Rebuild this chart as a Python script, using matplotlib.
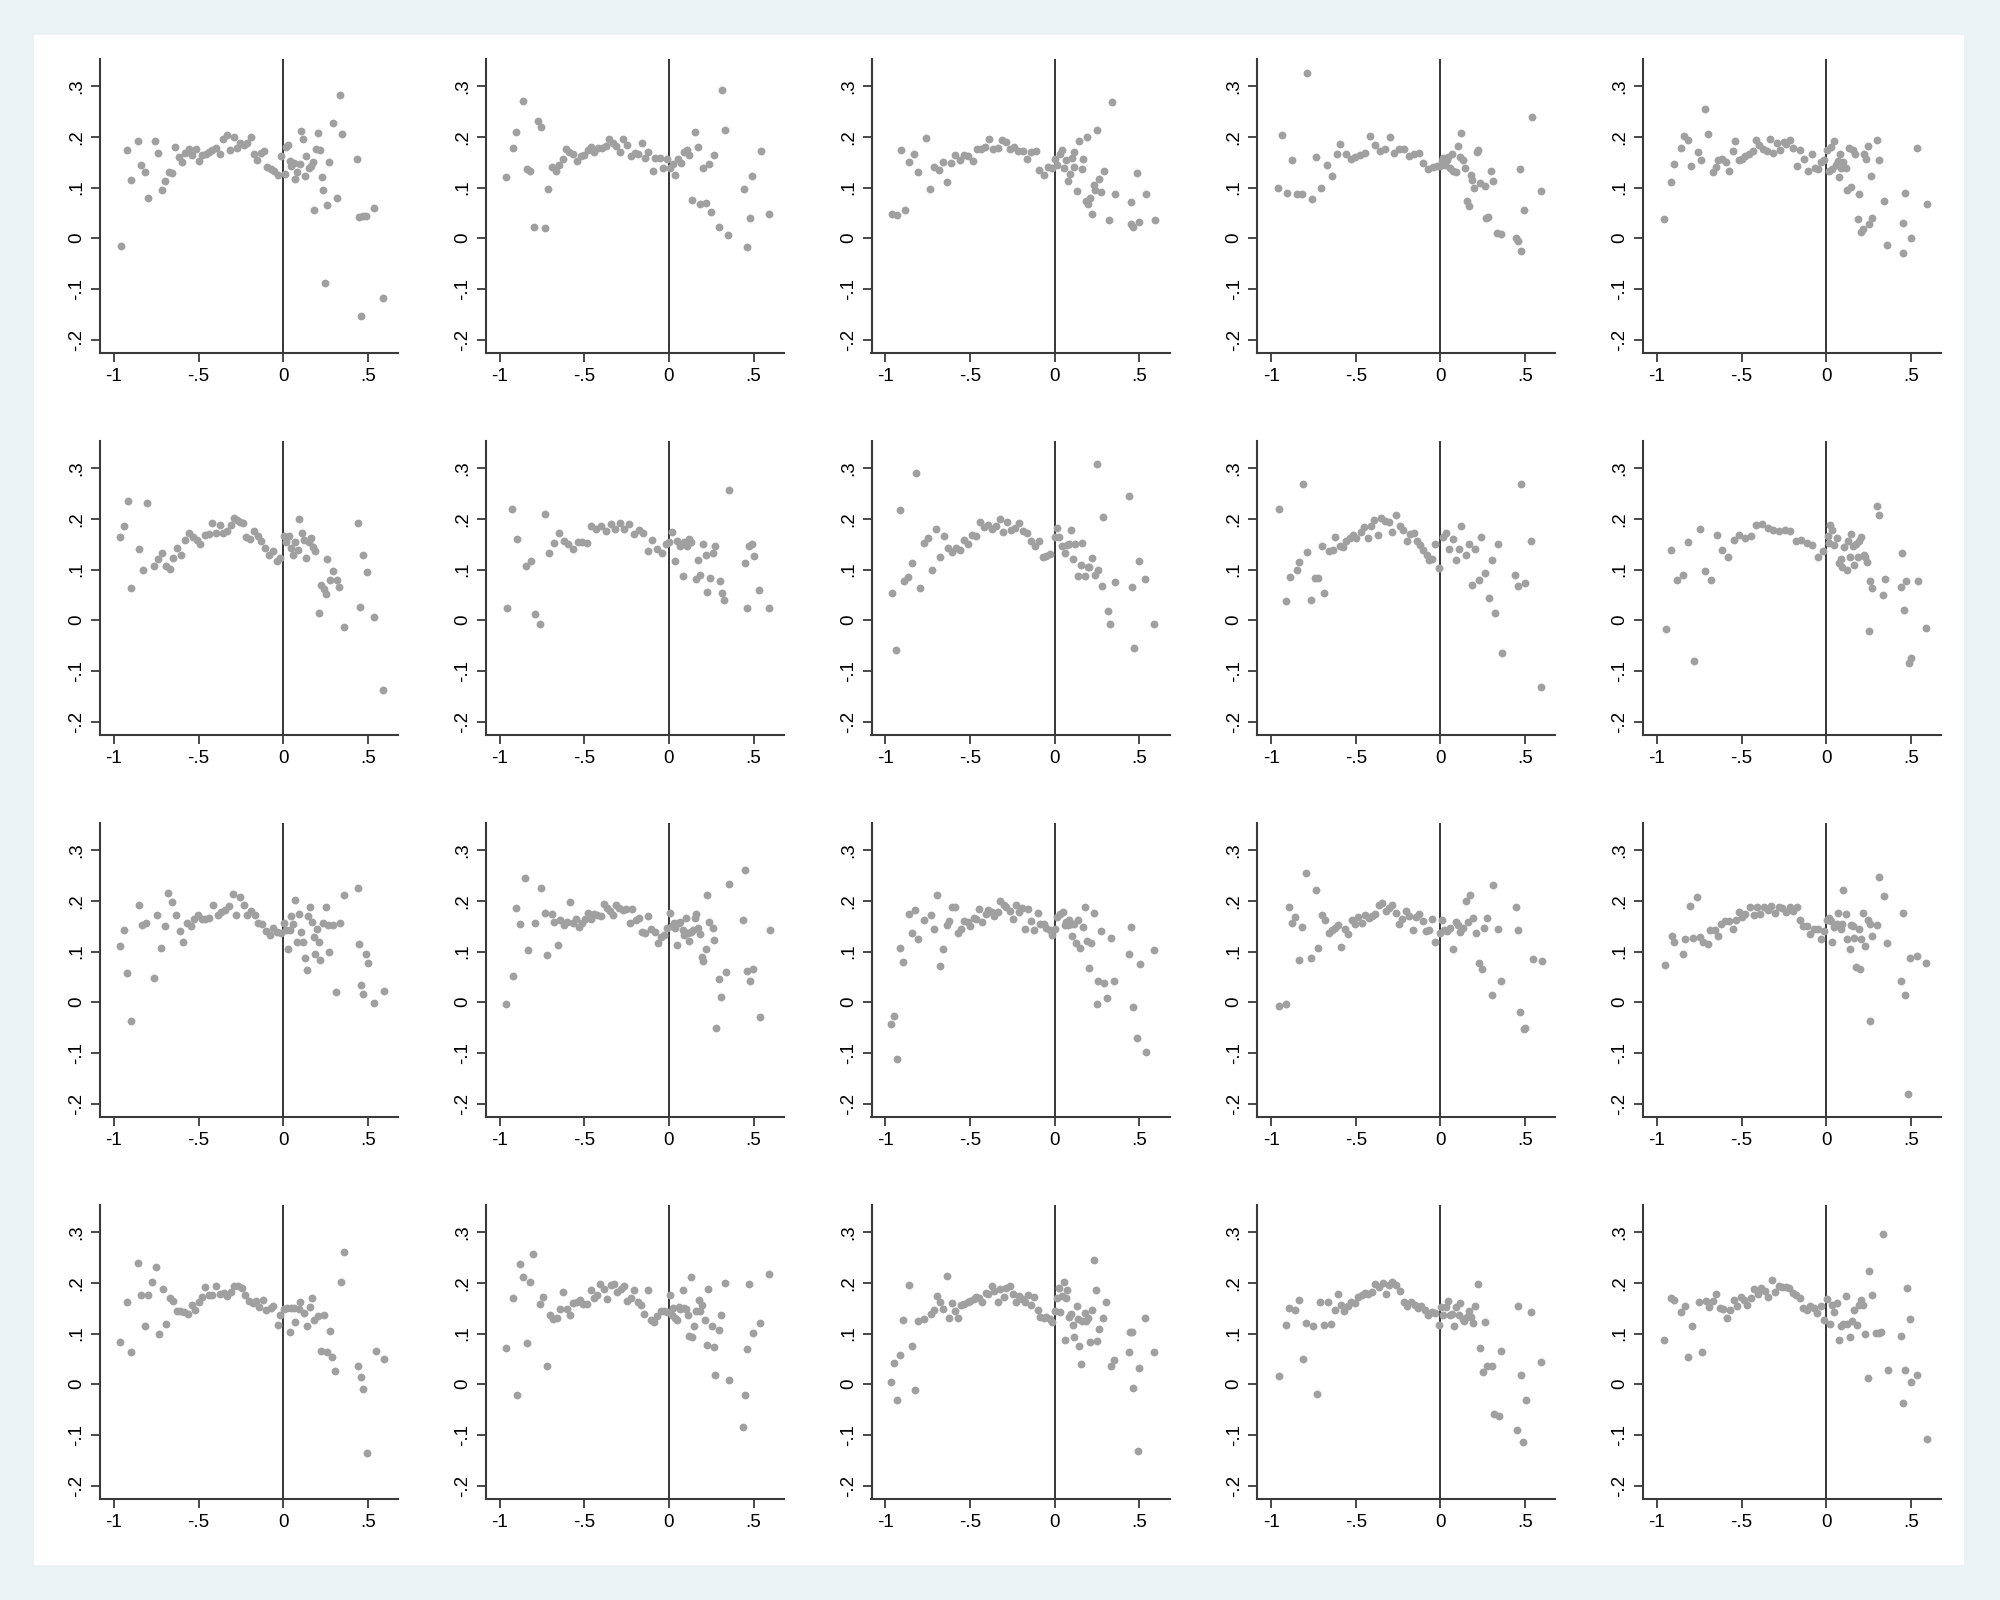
import numpy as np
import matplotlib.pyplot as plt
from matplotlib.patches import Rectangle

# values, (x, y) pairs, panels numbered row by row
panel_01 = [(-0.959,-0.015),(-0.920,0.175),(-0.900,0.115),(-0.860,0.192),(-0.841,0.144),(-0.817,0.131),(-0.799,0.079),(-0.760,0.192),(-0.740,0.169),(-0.716,0.095),(-0.699,0.113),(-0.677,0.131),(-0.657,0.129),(-0.639,0.180),(-0.618,0.161),(-0.598,0.150),(-0.578,0.169),(-0.559,0.177),(-0.537,0.165),(-0.517,0.177),(-0.497,0.152),(-0.478,0.164),(-0.458,0.167),(-0.438,0.171),(-0.418,0.175),(-0.399,0.178),(-0.375,0.166),(-0.355,0.195),(-0.334,0.204),(-0.316,0.175),(-0.290,0.199),(-0.270,0.179),(-0.255,0.187),(-0.233,0.184),(-0.213,0.187),(-0.189,0.199),(-0.174,0.167),(-0.154,0.154),(-0.130,0.169),(-0.111,0.173),(-0.093,0.140),(-0.073,0.136),(-0.053,0.133),(-0.032,0.125),(-0.012,0.163),(0.008,0.127),(0.016,0.180),(0.028,0.184),(0.039,0.153),(0.049,0.142),(0.061,0.148),(0.071,0.117),(0.083,0.130),(0.097,0.147),(0.107,0.211),(0.116,0.196),(0.128,0.123),(0.136,0.162),(0.150,0.138),(0.164,0.143),(0.174,0.151),(0.184,0.056),(0.193,0.176),(0.207,0.208),(0.219,0.174),(0.229,0.121),(0.235,0.095),(0.249,-0.088),(0.259,0.066),(0.272,0.150),(0.294,0.227),(0.318,0.079),(0.336,0.282),(0.347,0.205),(0.436,0.157),(0.448,0.042),(0.460,-0.153),(0.472,0.043),(0.491,0.044),(0.539,0.060),(0.592,-0.117)]
panel_02 = [(-0.964,0.120),(-0.923,0.178),(-0.904,0.210),(-0.860,0.271),(-0.838,0.136),(-0.819,0.133),(-0.797,0.022),(-0.775,0.232),(-0.755,0.219),(-0.734,0.020),(-0.714,0.097),(-0.690,0.141),(-0.670,0.132),(-0.648,0.145),(-0.626,0.157),(-0.607,0.176),(-0.588,0.170),(-0.566,0.166),(-0.541,0.153),(-0.522,0.163),(-0.503,0.165),(-0.481,0.174),(-0.459,0.180),(-0.440,0.170),(-0.418,0.178),(-0.396,0.178),(-0.374,0.182),(-0.354,0.196),(-0.332,0.187),(-0.310,0.182),(-0.288,0.170),(-0.269,0.195),(-0.247,0.183),(-0.225,0.163),(-0.203,0.168),(-0.184,0.166),(-0.162,0.188),(-0.140,0.158),(-0.121,0.170),(-0.096,0.133),(-0.080,0.159),(-0.055,0.159),(-0.036,0.139),(-0.014,0.157),(0.008,0.139),(0.025,0.146),(0.038,0.124),(0.052,0.157),(0.069,0.148),(0.088,0.170),(0.104,0.174),(0.118,0.164),(0.137,0.076),(0.151,0.210),(0.170,0.180),(0.181,0.068),(0.201,0.138),(0.217,0.070),(0.236,0.147),(0.250,0.051),(0.264,0.164),(0.294,0.022),(0.313,0.292),(0.330,0.213),(0.346,0.007),(0.442,0.097),(0.462,-0.018),(0.478,0.039),(0.489,0.122),(0.544,0.172),(0.591,0.047)]
panel_03 = [(-0.959,0.048),(-0.934,0.045),(-0.910,0.174),(-0.885,0.055),(-0.863,0.151),(-0.833,0.166),(-0.808,0.131),(-0.762,0.197),(-0.737,0.097),(-0.710,0.141),(-0.685,0.134),(-0.660,0.150),(-0.638,0.111),(-0.611,0.148),(-0.586,0.164),(-0.562,0.155),(-0.537,0.164),(-0.510,0.163),(-0.485,0.153),(-0.460,0.176),(-0.436,0.176),(-0.411,0.180),(-0.389,0.196),(-0.362,0.176),(-0.337,0.178),(-0.312,0.194),(-0.288,0.189),(-0.263,0.176),(-0.238,0.180),(-0.214,0.172),(-0.189,0.172),(-0.164,0.157),(-0.140,0.171),(-0.112,0.172),(-0.090,0.134),(-0.066,0.124),(-0.038,0.141),(-0.014,0.139),(0.000,0.157),(0.016,0.144),(0.030,0.166),(0.041,0.174),(0.052,0.138),(0.066,0.154),(0.079,0.112),(0.090,0.126),(0.101,0.158),(0.115,0.171),(0.115,0.141),(0.132,0.093),(0.142,0.191),(0.162,0.136),(0.170,0.157),(0.184,0.074),(0.192,0.200),(0.197,0.068),(0.208,0.080),(0.222,0.048),(0.230,0.105),(0.238,0.096),(0.252,0.213),(0.263,0.117),(0.274,0.091),(0.290,0.132),(0.318,0.036),(0.340,0.269),(0.356,0.088),(0.449,0.028),(0.452,0.071),(0.463,0.022),(0.488,0.128),(0.499,0.033),(0.540,0.088),(0.592,0.036)]
panel_04 = [(-0.959,0.099),(-0.934,0.203),(-0.904,0.089),(-0.874,0.155),(-0.849,0.087),(-0.816,0.087),(-0.786,0.326),(-0.761,0.078),(-0.734,0.161),(-0.703,0.099),(-0.673,0.145),(-0.643,0.123),(-0.613,0.166),(-0.591,0.186),(-0.560,0.166),(-0.530,0.157),(-0.505,0.160),(-0.478,0.164),(-0.445,0.168),(-0.418,0.202),(-0.387,0.184),(-0.357,0.172),(-0.330,0.176),(-0.299,0.199),(-0.272,0.168),(-0.245,0.176),(-0.214,0.176),(-0.187,0.163),(-0.154,0.166),(-0.124,0.168),(-0.104,0.149),(-0.071,0.136),(-0.044,0.141),(-0.022,0.143),(-0.005,0.142),(0.008,0.153),(0.016,0.159),(0.025,0.145),(0.036,0.154),(0.044,0.161),(0.055,0.139),(0.066,0.167),(0.077,0.133),(0.091,0.130),(0.102,0.182),(0.113,0.161),(0.121,0.207),(0.132,0.155),(0.143,0.139),(0.157,0.074),(0.168,0.063),(0.179,0.125),(0.187,0.114),(0.198,0.099),(0.214,0.170),(0.220,0.175),(0.234,0.108),(0.261,0.104),(0.269,0.040),(0.283,0.042),(0.299,0.133),(0.313,0.113),(0.332,0.011),(0.357,0.008),(0.448,0.000),(0.459,-0.005),(0.467,0.137),(0.473,-0.026),(0.495,0.055),(0.538,0.239),(0.593,0.093)]
panel_05 = [(-0.956,0.038),(-0.915,0.111),(-0.896,0.146),(-0.855,0.178),(-0.838,0.201),(-0.814,0.193),(-0.797,0.142),(-0.756,0.170),(-0.737,0.154),(-0.715,0.255),(-0.696,0.205),(-0.671,0.130),(-0.652,0.141),(-0.638,0.154),(-0.614,0.156),(-0.592,0.150),(-0.573,0.133),(-0.553,0.172),(-0.537,0.191),(-0.515,0.154),(-0.496,0.156),(-0.477,0.163),(-0.455,0.166),(-0.433,0.172),(-0.414,0.193),(-0.395,0.184),(-0.373,0.176),(-0.351,0.173),(-0.332,0.195),(-0.312,0.168),(-0.293,0.188),(-0.271,0.174),(-0.252,0.189),(-0.236,0.186),(-0.214,0.193),(-0.195,0.178),(-0.170,0.143),(-0.153,0.175),(-0.132,0.157),(-0.110,0.133),(-0.085,0.166),(-0.066,0.139),(-0.049,0.137),(-0.033,0.151),(-0.011,0.154),(0.005,0.174),(0.014,0.132),(0.030,0.180),(0.036,0.137),(0.049,0.192),(0.055,0.145),(0.071,0.153),(0.074,0.121),(0.082,0.167),(0.090,0.139),(0.101,0.151),(0.115,0.138),(0.121,0.095),(0.132,0.179),(0.148,0.101),(0.156,0.175),(0.173,0.167),(0.186,0.038),(0.195,0.087),(0.203,0.013),(0.216,0.019),(0.225,0.167),(0.233,0.157),(0.244,0.182),(0.252,0.028),(0.263,0.123),(0.271,0.040),(0.301,0.193),(0.310,0.154),(0.340,0.074),(0.362,-0.013),(0.455,0.030),(0.455,-0.030),(0.468,0.089),(0.499,0.000),(0.537,0.178),(0.595,0.068)]
panel_06 = [(-0.964,0.164),(-0.940,0.186),(-0.915,0.235),(-0.898,0.063),(-0.852,0.141),(-0.827,0.099),(-0.802,0.232),(-0.761,0.107),(-0.739,0.120),(-0.714,0.133),(-0.692,0.107),(-0.670,0.101),(-0.648,0.122),(-0.626,0.143),(-0.602,0.129),(-0.580,0.159),(-0.555,0.172),(-0.533,0.164),(-0.511,0.159),(-0.489,0.150),(-0.464,0.168),(-0.440,0.170),(-0.418,0.191),(-0.398,0.173),(-0.376,0.188),(-0.354,0.172),(-0.330,0.177),(-0.308,0.188),(-0.291,0.201),(-0.275,0.197),(-0.258,0.193),(-0.239,0.191),(-0.217,0.165),(-0.195,0.161),(-0.173,0.177),(-0.151,0.166),(-0.129,0.156),(-0.107,0.143),(-0.082,0.128),(-0.060,0.136),(-0.038,0.117),(-0.016,0.122),(0.005,0.166),(0.019,0.155),(0.033,0.167),(0.044,0.143),(0.058,0.129),(0.071,0.154),(0.085,0.138),(0.096,0.200),(0.113,0.172),(0.124,0.159),(0.137,0.122),(0.151,0.154),(0.165,0.162),(0.176,0.144),(0.190,0.136),(0.214,0.014),(0.223,0.070),(0.239,0.062),(0.253,0.051),(0.261,0.120),(0.277,0.080),(0.294,0.097),(0.316,0.080),(0.330,0.065),(0.360,-0.013),(0.442,0.192),(0.453,0.026),(0.473,0.128),(0.495,0.095),(0.538,0.007),(0.591,-0.138)]
panel_07 = [(-0.956,0.024),(-0.926,0.220),(-0.896,0.161),(-0.847,0.107),(-0.814,0.116),(-0.792,0.013),(-0.762,-0.007),(-0.732,0.210),(-0.707,0.133),(-0.677,0.153),(-0.649,0.173),(-0.622,0.157),(-0.595,0.151),(-0.567,0.140),(-0.540,0.154),(-0.512,0.155),(-0.485,0.153),(-0.458,0.186),(-0.430,0.180),(-0.403,0.186),(-0.373,0.176),(-0.345,0.190),(-0.318,0.180),(-0.290,0.192),(-0.263,0.180),(-0.236,0.189),(-0.205,0.170),(-0.178,0.178),(-0.151,0.172),(-0.123,0.137),(-0.099,0.159),(-0.068,0.141),(-0.041,0.133),(-0.019,0.151),(0.000,0.154),(0.019,0.174),(0.038,0.116),(0.049,0.157),(0.066,0.146),(0.082,0.087),(0.088,0.154),(0.107,0.146),(0.121,0.161),(0.132,0.154),(0.162,0.082),(0.170,0.118),(0.186,0.089),(0.200,0.150),(0.216,0.128),(0.227,0.055),(0.244,0.083),(0.258,0.133),(0.274,0.147),(0.299,0.077),(0.312,0.053),(0.326,0.039),(0.353,0.257),(0.447,0.113),(0.460,0.024),(0.474,0.146),(0.490,0.150),(0.504,0.126),(0.534,0.060),(0.592,0.024)]
panel_08 = [(-0.962,0.053),(-0.937,-0.059),(-0.912,0.218),(-0.888,0.077),(-0.866,0.086),(-0.841,0.113),(-0.819,0.291),(-0.795,0.064),(-0.770,0.153),(-0.748,0.163),(-0.723,0.099),(-0.701,0.180),(-0.677,0.125),(-0.652,0.166),(-0.630,0.142),(-0.608,0.134),(-0.584,0.143),(-0.559,0.138),(-0.537,0.159),(-0.512,0.151),(-0.490,0.169),(-0.463,0.166),(-0.441,0.193),(-0.419,0.183),(-0.395,0.187),(-0.370,0.180),(-0.348,0.185),(-0.326,0.200),(-0.304,0.175),(-0.282,0.193),(-0.258,0.178),(-0.233,0.181),(-0.211,0.191),(-0.186,0.176),(-0.164,0.172),(-0.140,0.157),(-0.118,0.146),(-0.093,0.157),(-0.071,0.125),(-0.049,0.126),(-0.027,0.131),(0.003,0.165),(0.016,0.182),(0.027,0.164),(0.041,0.146),(0.058,0.133),(0.071,0.149),(0.085,0.150),(0.099,0.178),(0.110,0.120),(0.121,0.150),(0.140,0.088),(0.153,0.109),(0.164,0.153),(0.178,0.088),(0.195,0.105),(0.205,0.105),(0.222,0.123),(0.236,0.089),(0.247,0.308),(0.258,0.100),(0.277,0.068),(0.288,0.203),(0.315,0.018),(0.329,-0.008),(0.359,0.075),(0.436,0.245),(0.455,0.066),(0.466,-0.055),(0.496,0.117),(0.532,0.082),(0.589,-0.008)]
panel_09 = [(-0.956,0.219),(-0.915,0.038),(-0.890,0.086),(-0.849,0.099),(-0.833,0.115),(-0.811,0.269),(-0.786,0.135),(-0.767,0.040),(-0.740,0.084),(-0.726,0.084),(-0.701,0.147),(-0.685,0.054),(-0.658,0.136),(-0.636,0.138),(-0.622,0.164),(-0.592,0.147),(-0.575,0.144),(-0.556,0.157),(-0.537,0.163),(-0.515,0.168),(-0.496,0.163),(-0.471,0.174),(-0.449,0.183),(-0.430,0.162),(-0.411,0.185),(-0.392,0.197),(-0.367,0.168),(-0.351,0.201),(-0.329,0.195),(-0.304,0.193),(-0.285,0.175),(-0.260,0.207),(-0.241,0.185),(-0.219,0.178),(-0.200,0.157),(-0.181,0.170),(-0.159,0.172),(-0.140,0.156),(-0.121,0.149),(-0.101,0.139),(-0.082,0.128),(-0.066,0.118),(-0.047,0.121),(-0.030,0.150),(-0.011,0.103),(0.014,0.164),(0.033,0.173),(0.049,0.140),(0.074,0.160),(0.090,0.118),(0.110,0.140),(0.123,0.186),(0.148,0.128),(0.167,0.151),(0.184,0.070),(0.205,0.141),(0.227,0.079),(0.241,0.165),(0.263,0.093),(0.285,0.044),(0.304,0.119),(0.321,0.014),(0.340,0.151),(0.362,-0.064),(0.438,0.089),(0.458,0.068),(0.474,0.268),(0.499,0.074),(0.534,0.156),(0.595,-0.132)]
panel_10 = [(-0.948,-0.017),(-0.918,0.138),(-0.883,0.079),(-0.847,0.089),(-0.818,0.155),(-0.782,-0.081),(-0.747,0.180),(-0.718,0.097),(-0.682,0.079),(-0.647,0.168),(-0.617,0.138),(-0.582,0.125),(-0.547,0.158),(-0.517,0.168),(-0.482,0.162),(-0.446,0.166),(-0.417,0.188),(-0.381,0.190),(-0.346,0.182),(-0.316,0.178),(-0.281,0.176),(-0.246,0.178),(-0.216,0.176),(-0.181,0.156),(-0.151,0.158),(-0.116,0.153),(-0.081,0.148),(-0.051,0.125),(-0.018,0.136),(0.008,0.166),(0.018,0.152),(0.024,0.188),(0.037,0.178),(0.049,0.148),(0.063,0.162),(0.075,0.113),(0.090,0.120),(0.094,0.105),(0.106,0.145),(0.120,0.100),(0.128,0.156),(0.138,0.125),(0.149,0.170),(0.161,0.146),(0.167,0.108),(0.177,0.150),(0.187,0.125),(0.195,0.157),(0.208,0.164),(0.222,0.128),(0.232,0.125),(0.238,0.115),(0.250,-0.022),(0.259,0.078),(0.273,0.064),(0.301,0.225),(0.309,0.207),(0.336,0.049),(0.350,0.082),(0.442,0.065),(0.450,0.133),(0.462,0.020),(0.472,0.077),(0.489,-0.084),(0.503,-0.074),(0.545,0.077),(0.592,-0.015)]
panel_11 = [(-0.964,0.111),(-0.940,0.143),(-0.923,0.058),(-0.898,-0.038),(-0.852,0.192),(-0.832,0.153),(-0.810,0.157),(-0.766,0.048),(-0.745,0.172),(-0.720,0.107),(-0.698,0.151),(-0.679,0.216),(-0.657,0.197),(-0.632,0.172),(-0.607,0.141),(-0.591,0.118),(-0.566,0.157),(-0.544,0.151),(-0.525,0.164),(-0.503,0.173),(-0.481,0.164),(-0.459,0.164),(-0.437,0.166),(-0.412,0.192),(-0.387,0.172),(-0.365,0.178),(-0.343,0.182),(-0.321,0.189),(-0.299,0.213),(-0.280,0.172),(-0.258,0.208),(-0.234,0.191),(-0.212,0.172),(-0.192,0.180),(-0.168,0.172),(-0.146,0.157),(-0.124,0.155),(-0.102,0.141),(-0.080,0.133),(-0.058,0.147),(-0.036,0.139),(-0.014,0.137),(0.005,0.157),(0.019,0.143),(0.027,0.105),(0.038,0.142),(0.049,0.170),(0.060,0.155),(0.071,0.202),(0.082,0.119),(0.096,0.175),(0.104,0.138),(0.115,0.118),(0.129,0.087),(0.140,0.064),(0.148,0.170),(0.157,0.188),(0.170,0.159),(0.179,0.128),(0.190,0.096),(0.201,0.145),(0.209,0.118),(0.220,0.084),(0.234,0.156),(0.253,0.188),(0.264,0.152),(0.269,0.099),(0.294,0.152),(0.313,0.020),(0.335,0.157),(0.357,0.211),(0.442,0.225),(0.448,0.115),(0.462,0.034),(0.470,0.016),(0.489,0.095),(0.503,0.078),(0.538,-0.002),(0.596,0.022)]
panel_12 = [(-0.962,-0.004),(-0.921,0.051),(-0.901,0.186),(-0.882,0.154),(-0.849,0.245),(-0.830,0.103),(-0.792,0.157),(-0.753,0.225),(-0.734,0.176),(-0.721,0.093),(-0.693,0.174),(-0.677,0.159),(-0.658,0.113),(-0.641,0.162),(-0.622,0.153),(-0.605,0.159),(-0.586,0.197),(-0.567,0.157),(-0.551,0.165),(-0.532,0.148),(-0.512,0.157),(-0.496,0.164),(-0.477,0.176),(-0.460,0.164),(-0.441,0.174),(-0.422,0.172),(-0.403,0.170),(-0.384,0.193),(-0.367,0.185),(-0.348,0.180),(-0.329,0.173),(-0.312,0.192),(-0.293,0.186),(-0.274,0.182),(-0.255,0.183),(-0.233,0.157),(-0.216,0.183),(-0.197,0.163),(-0.178,0.166),(-0.159,0.138),(-0.142,0.137),(-0.123,0.171),(-0.104,0.145),(-0.085,0.138),(-0.066,0.117),(-0.047,0.129),(-0.027,0.132),(-0.011,0.147),(0.008,0.176),(0.016,0.150),(0.030,0.157),(0.038,0.146),(0.049,0.113),(0.058,0.157),(0.068,0.159),(0.082,0.142),(0.090,0.133),(0.101,0.166),(0.110,0.137),(0.121,0.121),(0.132,0.139),(0.140,0.142),(0.153,0.167),(0.162,0.174),(0.170,0.147),(0.184,0.134),(0.195,0.089),(0.203,0.082),(0.216,0.105),(0.227,0.212),(0.236,0.159),(0.258,0.147),(0.268,0.122),(0.279,-0.050),(0.296,0.045),(0.310,0.010),(0.334,0.059),(0.356,0.234),(0.438,0.162),(0.452,0.261),(0.463,0.062),(0.477,0.042),(0.499,0.065),(0.540,-0.030),(0.595,0.143)]
panel_13 = [(-0.967,-0.043),(-0.948,-0.027),(-0.932,-0.111),(-0.912,0.107),(-0.896,0.080),(-0.860,0.174),(-0.841,0.136),(-0.825,0.182),(-0.805,0.125),(-0.770,0.162),(-0.729,0.172),(-0.710,0.145),(-0.693,0.211),(-0.677,0.071),(-0.658,0.105),(-0.638,0.153),(-0.622,0.161),(-0.605,0.188),(-0.586,0.188),(-0.570,0.136),(-0.551,0.145),(-0.534,0.161),(-0.515,0.159),(-0.499,0.150),(-0.479,0.166),(-0.463,0.164),(-0.447,0.184),(-0.427,0.159),(-0.408,0.174),(-0.392,0.182),(-0.373,0.179),(-0.356,0.170),(-0.337,0.179),(-0.321,0.200),(-0.301,0.191),(-0.285,0.188),(-0.266,0.180),(-0.249,0.164),(-0.230,0.192),(-0.211,0.179),(-0.195,0.186),(-0.175,0.144),(-0.156,0.184),(-0.140,0.161),(-0.121,0.142),(-0.101,0.176),(-0.085,0.155),(-0.066,0.154),(-0.049,0.146),(-0.030,0.142),(-0.014,0.133),(0.000,0.145),(0.014,0.168),(0.030,0.174),(0.049,0.178),(0.058,0.152),(0.066,0.159),(0.077,0.152),(0.085,0.162),(0.096,0.154),(0.104,0.130),(0.115,0.154),(0.126,0.116),(0.137,0.162),(0.151,0.107),(0.170,0.149),(0.178,0.188),(0.189,0.121),(0.205,0.068),(0.216,0.117),(0.230,0.176),(0.247,-0.004),(0.258,0.041),(0.271,0.141),(0.290,0.038),(0.307,0.009),(0.332,0.126),(0.348,0.042),(0.436,0.095),(0.449,0.149),(0.460,-0.009),(0.488,-0.070),(0.501,0.075),(0.537,-0.098),(0.589,0.103)]
panel_14 = [(-0.956,-0.008),(-0.915,-0.004),(-0.896,0.188),(-0.877,0.157),(-0.858,0.168),(-0.838,0.083),(-0.819,0.148),(-0.797,0.255),(-0.762,0.087),(-0.737,0.221),(-0.721,0.107),(-0.701,0.172),(-0.679,0.162),(-0.660,0.136),(-0.641,0.142),(-0.622,0.147),(-0.603,0.152),(-0.586,0.108),(-0.564,0.145),(-0.545,0.134),(-0.521,0.163),(-0.504,0.155),(-0.485,0.168),(-0.463,0.156),(-0.444,0.172),(-0.422,0.167),(-0.403,0.170),(-0.384,0.175),(-0.364,0.192),(-0.345,0.195),(-0.323,0.180),(-0.304,0.186),(-0.285,0.192),(-0.263,0.176),(-0.244,0.155),(-0.225,0.164),(-0.203,0.180),(-0.184,0.171),(-0.164,0.142),(-0.145,0.169),(-0.126,0.175),(-0.104,0.161),(-0.085,0.141),(-0.066,0.143),(-0.047,0.164),(-0.030,0.118),(-0.005,0.137),(0.008,0.162),(0.022,0.143),(0.041,0.141),(0.058,0.147),(0.074,0.105),(0.090,0.159),(0.104,0.152),(0.118,0.138),(0.132,0.147),(0.148,0.200),(0.162,0.159),(0.175,0.212),(0.192,0.166),(0.208,0.136),(0.227,0.078),(0.244,0.065),(0.260,0.147),(0.277,0.166),(0.304,0.014),(0.312,0.232),(0.340,0.144),(0.356,0.042),(0.447,0.188),(0.458,0.142),(0.468,-0.019),(0.494,-0.052),(0.502,-0.050),(0.548,0.086),(0.600,0.082)]
panel_15 = [(-0.953,0.073),(-0.912,0.130),(-0.896,0.118),(-0.847,0.096),(-0.832,0.125),(-0.804,0.190),(-0.788,0.126),(-0.765,0.207),(-0.747,0.128),(-0.729,0.118),(-0.700,0.115),(-0.684,0.142),(-0.659,0.142),(-0.641,0.130),(-0.621,0.154),(-0.598,0.160),(-0.574,0.160),(-0.552,0.144),(-0.535,0.162),(-0.517,0.178),(-0.495,0.168),(-0.480,0.174),(-0.452,0.188),(-0.429,0.172),(-0.409,0.187),(-0.389,0.175),(-0.366,0.188),(-0.346,0.181),(-0.324,0.190),(-0.303,0.176),(-0.279,0.187),(-0.259,0.185),(-0.238,0.179),(-0.216,0.187),(-0.195,0.180),(-0.173,0.188),(-0.157,0.162),(-0.138,0.150),(-0.114,0.151),(-0.094,0.135),(-0.073,0.144),(-0.049,0.145),(-0.031,0.125),(-0.012,0.141),(0.002,0.162),(0.018,0.167),(0.031,0.160),(0.035,0.118),(0.049,0.149),(0.063,0.154),(0.071,0.177),(0.079,0.150),(0.088,0.145),(0.094,0.155),(0.102,0.221),(0.116,0.175),(0.124,0.124),(0.138,0.106),(0.144,0.153),(0.157,0.151),(0.167,0.127),(0.175,0.070),(0.193,0.145),(0.197,0.065),(0.208,0.124),(0.220,0.176),(0.232,0.110),(0.244,0.163),(0.256,-0.037),(0.259,0.154),(0.271,0.130),(0.299,0.153),(0.313,0.248),(0.340,0.210),(0.360,0.117),(0.444,0.042),(0.452,0.177),(0.468,0.015),(0.482,-0.182),(0.495,0.087),(0.539,0.091),(0.592,0.077)]
panel_16 = [(-0.964,0.084),(-0.923,0.162),(-0.898,0.063),(-0.857,0.240),(-0.838,0.177),(-0.816,0.114),(-0.797,0.176),(-0.775,0.201),(-0.750,0.232),(-0.734,0.100),(-0.709,0.187),(-0.690,0.118),(-0.668,0.170),(-0.648,0.164),(-0.626,0.145),(-0.607,0.145),(-0.588,0.143),(-0.563,0.138),(-0.541,0.157),(-0.522,0.147),(-0.500,0.163),(-0.481,0.172),(-0.459,0.191),(-0.437,0.176),(-0.418,0.176),(-0.396,0.193),(-0.374,0.179),(-0.352,0.180),(-0.332,0.174),(-0.310,0.182),(-0.288,0.193),(-0.266,0.194),(-0.245,0.190),(-0.225,0.177),(-0.203,0.164),(-0.181,0.160),(-0.162,0.164),(-0.140,0.153),(-0.121,0.167),(-0.099,0.147),(-0.074,0.151),(-0.058,0.155),(-0.033,0.116),(-0.016,0.136),(0.005,0.149),(0.022,0.151),(0.038,0.103),(0.049,0.151),(0.062,0.150),(0.071,0.122),(0.091,0.149),(0.102,0.162),(0.124,0.141),(0.140,0.114),(0.157,0.152),(0.173,0.171),(0.184,0.127),(0.203,0.134),(0.223,0.066),(0.242,0.136),(0.258,0.063),(0.277,0.106),(0.288,0.053),(0.308,0.026),(0.341,0.202),(0.360,0.261),(0.442,0.035),(0.462,0.014),(0.473,-0.009),(0.492,-0.135),(0.547,0.066),(0.593,0.049)]
panel_17 = [(-0.962,0.072),(-0.921,0.171),(-0.896,-0.021),(-0.879,0.237),(-0.863,0.211),(-0.838,0.082),(-0.819,0.202),(-0.803,0.256),(-0.762,0.159),(-0.742,0.172),(-0.723,0.036),(-0.701,0.137),(-0.682,0.128),(-0.660,0.130),(-0.644,0.149),(-0.625,0.181),(-0.603,0.148),(-0.586,0.136),(-0.564,0.160),(-0.545,0.162),(-0.526,0.166),(-0.507,0.158),(-0.482,0.159),(-0.463,0.185),(-0.444,0.170),(-0.425,0.177),(-0.405,0.197),(-0.386,0.187),(-0.364,0.169),(-0.345,0.195),(-0.326,0.197),(-0.304,0.181),(-0.285,0.188),(-0.266,0.193),(-0.247,0.164),(-0.225,0.171),(-0.205,0.185),(-0.184,0.162),(-0.167,0.157),(-0.145,0.139),(-0.126,0.186),(-0.107,0.126),(-0.088,0.122),(-0.068,0.135),(-0.049,0.145),(-0.030,0.144),(-0.011,0.143),(0.005,0.176),(0.016,0.136),(0.025,0.151),(0.038,0.131),(0.049,0.126),(0.060,0.153),(0.068,0.148),(0.082,0.186),(0.090,0.151),(0.101,0.148),(0.110,0.137),(0.118,0.095),(0.132,0.212),(0.137,0.093),(0.148,0.115),(0.162,0.144),(0.175,0.166),(0.186,0.145),(0.197,0.156),(0.211,0.127),(0.225,0.078),(0.230,0.187),(0.255,0.115),(0.266,0.074),(0.274,0.018),(0.293,0.107),(0.307,0.137),(0.329,0.200),(0.353,0.009),(0.436,-0.084),(0.447,-0.021),(0.460,0.070),(0.474,0.198),(0.496,0.102),(0.537,0.120),(0.592,0.218)]
panel_18 = [(-0.967,0.004),(-0.948,0.041),(-0.932,-0.031),(-0.912,0.057),(-0.896,0.126),(-0.860,0.195),(-0.841,0.076),(-0.825,-0.012),(-0.805,0.124),(-0.770,0.128),(-0.729,0.139),(-0.710,0.147),(-0.693,0.175),(-0.677,0.163),(-0.658,0.149),(-0.638,0.213),(-0.622,0.130),(-0.605,0.160),(-0.586,0.145),(-0.570,0.130),(-0.551,0.157),(-0.534,0.159),(-0.515,0.162),(-0.499,0.165),(-0.479,0.168),(-0.463,0.173),(-0.447,0.170),(-0.427,0.163),(-0.408,0.180),(-0.392,0.178),(-0.373,0.194),(-0.356,0.183),(-0.337,0.163),(-0.321,0.188),(-0.301,0.173),(-0.285,0.189),(-0.266,0.193),(-0.249,0.178),(-0.230,0.162),(-0.211,0.175),(-0.195,0.169),(-0.175,0.163),(-0.156,0.177),(-0.140,0.157),(-0.121,0.173),(-0.101,0.147),(-0.085,0.132),(-0.066,0.130),(-0.049,0.133),(-0.030,0.129),(-0.014,0.122),(0.000,0.145),(0.014,0.170),(0.025,0.189),(0.030,0.143),(0.041,0.174),(0.052,0.201),(0.058,0.088),(0.066,0.170),(0.074,0.186),(0.082,0.132),(0.096,0.139),(0.107,0.116),(0.115,0.093),(0.129,0.155),(0.140,0.129),(0.145,0.075),(0.153,0.039),(0.162,0.124),(0.178,0.141),(0.186,0.124),(0.197,0.130),(0.208,0.083),(0.219,0.147),(0.230,0.245),(0.244,0.185),(0.252,0.085),(0.263,0.109),(0.288,0.130),(0.304,0.162),(0.334,0.036),(0.353,0.047),(0.438,0.064),(0.444,0.103),(0.458,0.104),(0.460,-0.008),(0.490,-0.132),(0.496,0.032),(0.532,0.130),(0.589,0.063)]
panel_19 = [(-0.956,0.017),(-0.915,0.117),(-0.896,0.151),(-0.858,0.147),(-0.833,0.167),(-0.814,0.049),(-0.792,0.120),(-0.751,0.114),(-0.732,-0.020),(-0.710,0.163),(-0.690,0.117),(-0.666,0.162),(-0.649,0.118),(-0.625,0.147),(-0.608,0.179),(-0.586,0.157),(-0.567,0.145),(-0.548,0.154),(-0.526,0.163),(-0.504,0.161),(-0.485,0.173),(-0.466,0.176),(-0.444,0.180),(-0.425,0.178),(-0.405,0.182),(-0.384,0.197),(-0.364,0.191),(-0.342,0.199),(-0.321,0.178),(-0.301,0.196),(-0.285,0.201),(-0.263,0.196),(-0.236,0.183),(-0.214,0.163),(-0.195,0.155),(-0.173,0.162),(-0.153,0.157),(-0.134,0.151),(-0.112,0.154),(-0.093,0.146),(-0.071,0.137),(-0.049,0.143),(-0.030,0.141),(-0.011,0.116),(0.005,0.152),(0.016,0.136),(0.033,0.153),(0.044,0.165),(0.055,0.137),(0.066,0.139),(0.079,0.114),(0.093,0.153),(0.107,0.136),(0.118,0.161),(0.132,0.129),(0.142,0.124),(0.156,0.133),(0.167,0.145),(0.181,0.133),(0.195,0.121),(0.205,0.154),(0.222,0.197),(0.233,0.071),(0.249,0.024),(0.263,0.122),(0.274,0.036),(0.304,0.036),(0.318,-0.059),(0.345,-0.063),(0.356,0.066),(0.455,-0.091),(0.460,0.155),(0.477,0.019),(0.488,-0.114),(0.504,-0.032),(0.537,0.142),(0.595,0.043)]
panel_20 = [(-0.957,0.087),(-0.916,0.171),(-0.898,0.167),(-0.858,0.142),(-0.833,0.154),(-0.817,0.053),(-0.793,0.114),(-0.752,0.163),(-0.732,0.063),(-0.710,0.165),(-0.693,0.152),(-0.669,0.165),(-0.651,0.178),(-0.630,0.150),(-0.608,0.148),(-0.586,0.130),(-0.566,0.147),(-0.547,0.167),(-0.525,0.155),(-0.503,0.173),(-0.486,0.167),(-0.466,0.156),(-0.444,0.171),(-0.424,0.188),(-0.405,0.178),(-0.385,0.190),(-0.363,0.183),(-0.343,0.173),(-0.320,0.206),(-0.300,0.181),(-0.278,0.193),(-0.261,0.191),(-0.239,0.192),(-0.219,0.190),(-0.197,0.180),(-0.178,0.176),(-0.156,0.170),(-0.136,0.150),(-0.111,0.147),(-0.097,0.154),(-0.073,0.151),(-0.053,0.140),(-0.030,0.155),(-0.012,0.127),(0.006,0.169),(0.022,0.119),(0.036,0.157),(0.049,0.142),(0.061,0.161),(0.073,0.088),(0.085,0.114),(0.101,0.118),(0.114,0.175),(0.124,0.119),(0.138,0.094),(0.152,0.124),(0.164,0.147),(0.180,0.116),(0.195,0.157),(0.203,0.167),(0.215,0.157),(0.231,0.100),(0.245,0.013),(0.255,0.224),(0.268,0.177),(0.296,0.102),(0.312,0.102),(0.326,0.104),(0.334,0.297),(0.363,0.029),(0.440,0.096),(0.452,-0.038),(0.464,0.029),(0.476,0.189),(0.493,0.129),(0.503,0.004),(0.539,0.019),(0.594,-0.108)]

panels = [panel_01, panel_02, panel_03, panel_04, panel_05,
          panel_06, panel_07, panel_08, panel_09, panel_10,
          panel_11, panel_12, panel_13, panel_14, panel_15,
          panel_16, panel_17, panel_18, panel_19, panel_20]

x_ticks = [-1, -0.5, 0, 0.5]
x_tick_labels = ['-1', '-.5', '0', '.5']
y_ticks = [-0.2, -0.1, 0, 0.1, 0.2, 0.3]
y_tick_labels = ['-.2', '-.1', '0', '.1', '.2', '.3']

plt.rcParams['font.family'] = ['Liberation Sans', 'DejaVu Sans']

W, H = 2000, 1600
fig = plt.figure(figsize=(W / 100, H / 100), dpi=100)
fig.patch.set_facecolor('#eaf2f3')
# white plot region inside the light frame, kept behind the axes
fig.patches.append(Rectangle((34 / W, 1 - 1565 / H), 1930 / W, 1530 / H,
                             transform=fig.transFigure, facecolor='white',
                             edgecolor='none', zorder=-10))

axis_col = '#3a3a3a'
for i, pts in enumerate(panels):
    r, c = divmod(i, 5)
    left = (100 + 385.75 * c) / W
    bottom = 1 - (353.3 + 382 * r) / H
    ax = fig.add_axes([left, bottom, 298 / W, 294 / H])
    ax.set_facecolor('white')
    xy = np.array(pts)
    ax.axvline(0, color='black', lw=1.1, zorder=2)
    ax.scatter(xy[:, 0], xy[:, 1], s=32, color='#a0a0a0', linewidths=0, zorder=3)
    ax.set_xlim(-1.082, 0.678)
    ax.set_ylim(-0.227, 0.353)
    ax.set_xticks(x_ticks)
    ax.set_xticklabels(x_tick_labels)
    ax.set_yticks(y_ticks)
    ax.set_yticklabels(y_tick_labels, rotation=90, va='center')
    for s in ['top', 'right']:
        ax.spines[s].set_visible(False)
    for s in ['left', 'bottom']:
        ax.spines[s].set_color(axis_col)
        ax.spines[s].set_linewidth(1.5)
    ax.tick_params(direction='out', length=6.5, width=1.3, color=axis_col,
                   labelsize=13.5, pad=4, labelcolor='black')

fig.savefig('out.png', dpi=100, facecolor=fig.get_facecolor())
